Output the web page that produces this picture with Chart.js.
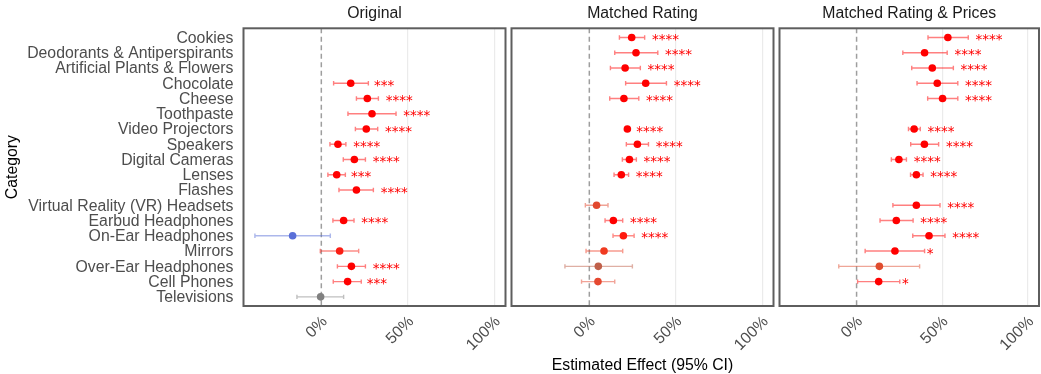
<!DOCTYPE html>
<html>
<head>
<meta charset="utf-8">
<script src="https://cdn.jsdelivr.net/npm/chart.js@4.4.0/dist/chart.umd.min.js"></script>
<style>
  html, body { margin: 0; padding: 0; background: #fff; overflow: hidden; }
  #wrap { position: relative; width: 1041px; height: 374px; overflow: hidden; }
  #wrap canvas { position: absolute; left: 0; top: 0; }
</style>
</head>
<body>
<div id="wrap">
  <canvas id="panel0" width="1043" height="374"></canvas>
  <canvas id="panel1" width="1043" height="374"></canvas>
  <canvas id="panel2" width="1043" height="374"></canvas>
</div>
<script>
const categories = [
  'Cookies', 'Deodorants & Antiperspirants', 'Artificial Plants & Flowers', 'Chocolate',
  'Cheese', 'Toothpaste', 'Video Projectors', 'Speakers', 'Digital Cameras', 'Lenses',
  'Flashes', 'Virtual Reality (VR) Headsets', 'Earbud Headphones', 'On-Ear Headphones',
  'Mirrors', 'Over-Ear Headphones', 'Cell Phones', 'Televisions'
];
const xTicks = [0, 0.5, 1];
const xTickLabels = ['0%', '50%', '100%'];
const panelTitles = ['Original', 'Matched Rating', 'Matched Rating & Prices'];

// Original
const origEst = [null, null, null, 0.170, 0.266, 0.293, 0.260, 0.096, 0.191, 0.089, 0.203, null, 0.129, -0.166, 0.106, 0.174, 0.152, -0.004];
const origLo  = [null, null, null, 0.071, 0.203, 0.154, 0.197, 0.050, 0.127, 0.038, 0.102, null, 0.067, -0.384, -0.006, 0.093, 0.069, -0.141];
const origHi  = [null, null, null, 0.272, 0.330, 0.432, 0.326, 0.142, 0.255, 0.139, 0.301, null, 0.189, 0.052, 0.216, 0.255, 0.231, 0.129];
const origStars = ['', '', '', '***', '****', '****', '****', '****', '****', '***', '****', '', '****', '', '', '****', '***', ''];
const origColors = ['', '', '', 'red', 'red', 'red', 'red', 'red', 'red', 'red', 'red', '', 'red', '#5a6fd8', '#fa1e14', 'red', 'red', '#808080'];

// Matched Rating
const ratingEst = [0.245, 0.270, 0.207, 0.326, 0.200, null, 0.220, 0.278, 0.232, 0.185, null, 0.042, 0.139, 0.197, 0.085, 0.052, 0.050, null];
const ratingLo  = [0.174, 0.147, 0.122, 0.210, 0.118, null, 0.210, 0.214, 0.191, 0.143, null, -0.023, 0.091, 0.137, -0.019, -0.141, -0.045, null];
const ratingHi  = [0.320, 0.396, 0.295, 0.446, 0.286, null, 0.230, 0.342, 0.272, 0.227, null, 0.108, 0.193, 0.259, 0.193, 0.249, 0.147, null];
const ratingStars = ['****', '****', '****', '****', '****', '', '****', '****', '****', '****', '', '', '****', '****', '', '', '', ''];
const ratingColors = ['red', 'red', 'red', 'red', 'red', '', 'red', 'red', 'red', 'red', '', '#e2482e', 'red', '#ff1a0f', '#f03a20', '#c0604a', '#e54830', ''];

// Matched Rating & Prices
const pricesEst = [0.533, 0.397, 0.442, 0.471, 0.502, null, 0.336, 0.396, 0.247, 0.349, null, 0.349, 0.232, 0.423, 0.224, 0.133, 0.129, null];
const pricesLo  = [0.417, 0.270, 0.322, 0.353, 0.415, null, 0.303, 0.316, 0.203, 0.315, null, 0.212, 0.137, 0.328, 0.050, -0.104, 0.006, null];
const pricesHi  = [0.652, 0.529, 0.565, 0.591, 0.591, null, 0.372, 0.479, 0.291, 0.388, null, 0.487, 0.330, 0.516, 0.397, 0.368, 0.252, null];
const pricesStars = ['****', '****', '****', '****', '****', '', '****', '****', '****', '****', '', '****', '****', '****', '*', '', '*', ''];
const pricesColors = ['red', 'red', 'red', 'red', 'red', '', 'red', 'red', 'red', 'red', '', 'red', 'red', 'red', 'red', '#e04d2f', 'red', ''];

const FONT = "'Liberation Sans', Arial, sans-serif";
const STAR_FONT = "13.5px 'DejaVu Sans', sans-serif";
Chart.defaults.font.family = FONT;

const CANVAS_W = 1043;
const PANEL_W = 262;
const panelLeft = [243.5, 511.5, 779.5];

const forestPlugin = {
  id: 'forest',
  beforeDatasetDraw(chart, args) {
    if (args.index !== 1) return;
    const ds = chart.data.datasets[1];
    const { x, y } = chart.scales;
    const ctx = chart.ctx;
    ctx.save();
    ctx.globalAlpha = 0.5;
    ctx.lineWidth = 1.4;
    ds.data.forEach((p, k) => {
      const py = y.getPixelForValue(p.y);
      const x0 = x.getPixelForValue(ds.lo[k]);
      const x1 = x.getPixelForValue(ds.hi[k]);
      ctx.strokeStyle = ds.pointBackgroundColor[k];
      ctx.beginPath();
      ctx.moveTo(x0, py); ctx.lineTo(x1, py);
      ctx.moveTo(x0, py - 2.2); ctx.lineTo(x0, py + 2.2);
      ctx.moveTo(x1, py - 2.2); ctx.lineTo(x1, py + 2.2);
      ctx.stroke();
    });
    ctx.restore();
  },
  afterDatasetsDraw(chart) {
    const ds = chart.data.datasets[1];
    const { x, y } = chart.scales;
    const ctx = chart.ctx;
    ctx.save();
    ctx.font = STAR_FONT;
    ctx.fillStyle = 'red';
    ctx.textAlign = 'left';
    ctx.textBaseline = 'alphabetic';
    ds.data.forEach((p, k) => {
      const s = ds.stars[k];
      if (!s) return;
      const m = ctx.measureText(s);
      const py = y.getPixelForValue(p.y);
      const base = py + (m.actualBoundingBoxAscent - m.actualBoundingBoxDescent) / 2;
      ctx.fillText(s, x.getPixelForValue(ds.hi[k]) + 0.25 * m.width + 0.5, base);
    });
    ctx.restore();
  },
  afterDraw(chart, args, opts) {
    const a = chart.chartArea;
    const ctx = chart.ctx;
    ctx.save();
    ctx.strokeStyle = '#5e5e5e';
    ctx.lineWidth = 2;
    ctx.strokeRect(a.left, a.top, a.right - a.left, a.bottom - a.top);
    ctx.fillStyle = '#1a1a1a';
    ctx.font = '15.8px ' + FONT;
    ctx.textAlign = 'center';
    ctx.textBaseline = 'alphabetic';
    ctx.fillText(opts.title, (a.left + a.right) / 2, 17.7);
    ctx.restore();
  }
};

function makePanel(idx, est, lo, hi, stars, colors) {
  const pts = [], ptColors = [], los = [], his = [], st = [];
  est.forEach((v, i) => {
    if (v === null) return;
    pts.push({ x: v, y: i });
    ptColors.push(colors[i]);
    los.push(lo[i]);
    his.push(hi[i]);
    st.push(stars[i]);
  });
  const first = idx === 0;

  return new Chart(document.getElementById('panel' + idx), {
    type: 'scatter',
    data: {
      datasets: [
        {
          type: 'line',
          data: [{ x: 0, y: -0.6 }, { x: 0, y: 17.6 }],
          borderColor: '#9e9e9e',
          borderWidth: 1.5,
          borderDash: [5, 3.5],
          pointRadius: 0,
          fill: false,
          order: 2
        },
        {
          data: pts,
          pointBackgroundColor: ptColors,
          pointBorderWidth: 0,
          pointRadius: 3.8,
          lo: los,
          hi: his,
          stars: st,
          order: 1
        }
      ]
    },
    options: {
      responsive: false,
      animation: false,
      layout: {
        padding: {
          left: first ? 0 : panelLeft[idx],
          right: CANVAS_W - panelLeft[idx] - PANEL_W,
          top: 28.3,
          bottom: 0
        }
      },
      plugins: {
        legend: { display: false },
        tooltip: { enabled: false },
        forest: { title: panelTitles[idx] }
      },
      scales: {
        x: {
          type: 'linear',
          min: -0.45,
          max: 1.065,
          afterBuildTicks: s => { s.ticks = xTicks.map(v => ({ value: v })); },
          afterFit: s => { s.height = 68; s.paddingLeft = 0; s.paddingRight = 0; },
          grid: {
            color: c => (c.tick && c.tick.value === 0) ? 'rgba(0,0,0,0)' : '#ebebeb',
            lineWidth: 1.2,
            drawTicks: false
          },
          border: { display: false },
          ticks: {
            minRotation: 45,
            maxRotation: 45,
            padding: 5.6,
            labelOffset: 3.5,
            color: '#4d4d4d',
            font: { size: 15.8, lineHeight: 1.39 },
            callback: v => xTickLabels[xTicks.indexOf(v)]
          },
          title: {
            display: idx === 1,
            text: 'Estimated Effect (95% CI)',
            color: '#000',
            font: { size: 15.8, lineHeight: 1.1 },
            padding: 0
          }
        },
        y: {
          type: 'linear',
          reverse: true,
          min: -0.6,
          max: 17.6,
          display: first,
          afterBuildTicks: s => { s.ticks = categories.map((c, i) => ({ value: i })); },
          afterFit: s => { if (first) s.width = 243.5; },
          grid: { display: false, drawTicks: false },
          border: { display: false },
          ticks: {
            autoSkip: false,
            padding: 10,
            labelOffset: 1,
            color: '#4d4d4d',
            font: { size: 15.8 },
            callback: v => categories[v]
          },
          title: {
            display: true,
            text: 'Category',
            color: '#000',
            font: { size: 15.8, lineHeight: 1.1 },
            padding: { top: 4, bottom: 0 }
          }
        }
      }
    },
    plugins: [forestPlugin]
  });
}

makePanel(0, origEst, origLo, origHi, origStars, origColors);
makePanel(1, ratingEst, ratingLo, ratingHi, ratingStars, ratingColors);
makePanel(2, pricesEst, pricesLo, pricesHi, pricesStars, pricesColors);
</script>
</body>
</html>
